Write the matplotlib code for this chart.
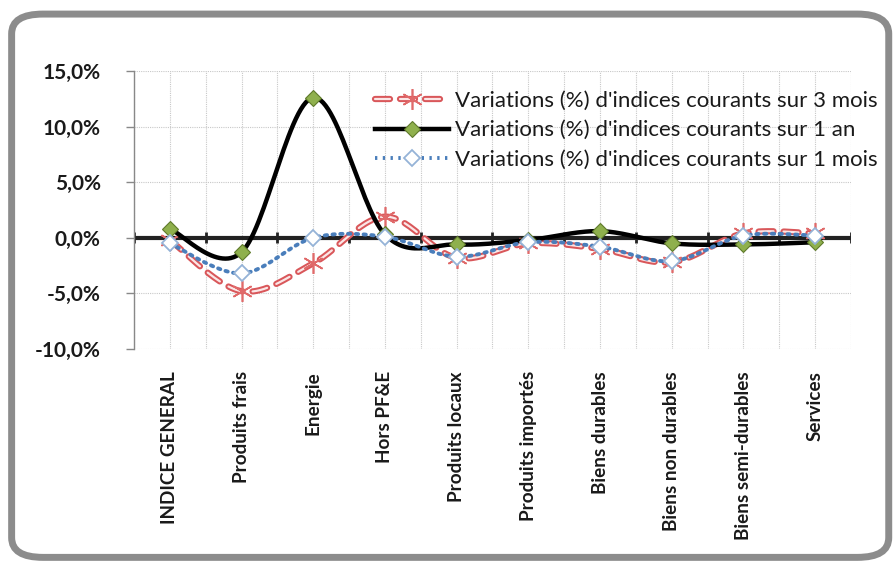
import numpy as np
import matplotlib
matplotlib.use("Agg")
import matplotlib.pyplot as plt
from matplotlib.patches import FancyBboxPatch
from matplotlib.lines import Line2D
from matplotlib.ticker import FuncFormatter, MultipleLocator

categories = ["INDICE GENERAL", "Produits frais", "Energie", "Hors PF&E",
              "Produits locaux", "Produits importés", "Biens durables",
              "Biens non durables", "Biens semi-durables", "Services"]
var_3mois = [-0.2, -4.8, -2.3, 1.9, -1.8, -0.5, -1.0, -2.2, 0.4, 0.4]
var_1an = [0.8, -1.3, 12.6, 0.3, -0.6, -0.2, 0.6, -0.5, -0.6, -0.4]
var_1mois = [-0.5, -3.2, 0.0, 0.1, -1.7, -0.4, -0.8, -2.1, 0.2, 0.2]
labels = ["Variations (%) d'indices courants sur 3 mois",
          "Variations (%) d'indices courants sur 1 an",
          "Variations (%) d'indices courants sur 1 mois"]

FONT = "Lato"


def smooth(xs, ys, n=30):
    """Excel-like smoothed curve (Catmull-Rom Bezier) through the points."""
    x = np.asarray(xs, float)
    y = np.asarray(ys, float)
    px = np.concatenate([[x[0]], x, [x[-1]]])
    py = np.concatenate([[y[0]], y, [y[-1]]])
    ox, oy = [], []
    t = np.linspace(0, 1, n)
    for i in range(1, len(px) - 2):
        p0 = np.array([px[i - 1], py[i - 1]])
        p1 = np.array([px[i], py[i]])
        p2 = np.array([px[i + 1], py[i + 1]])
        p3 = np.array([px[i + 2], py[i + 2]])
        c1 = p1 + (p2 - p0) / 6
        c2 = p2 - (p3 - p1) / 6
        b = ((1 - t) ** 3)[:, None] * p1 + (3 * (1 - t) ** 2 * t)[:, None] * c1 \
            + (3 * (1 - t) * t ** 2)[:, None] * c2 + (t ** 3)[:, None] * p2
        ox.extend(b[:, 0])
        oy.extend(b[:, 1])
    return np.array(ox), np.array(oy)


fig = plt.figure(figsize=(8.95, 5.63), dpi=100)
fig.patch.set_facecolor("white")

frame = FancyBboxPatch((0.013, 0.01), 0.98, 0.965, boxstyle="round,pad=0,rounding_size=0.035",
                       transform=fig.transFigure, facecolor="none", edgecolor="#8c8c8c",
                       linewidth=5, zorder=-5)
fig.patches.append(frame)

ax = fig.add_axes([0.1497, 0.3801, 0.8011, 0.4938])
ax.set_facecolor("none")
x = np.arange(len(categories))

ax.set_xlim(-0.5, len(categories) - 0.5)
ax.set_ylim(-10, 15)

# grid
ax.yaxis.set_major_locator(MultipleLocator(5))
ax.set_xticks(x)
ax.set_xticks(np.arange(-0.5, len(categories) + 0.5, 1), minor=True)
ax.grid(True, which="major", axis="both", color="#c8c8c8", linestyle=(0, (1, 1)), linewidth=0.8)
ax.grid(True, which="minor", axis="x", color="#c8c8c8", linestyle=(0, (1, 1)), linewidth=0.8)
ax.set_axisbelow(True)

ax.yaxis.set_major_formatter(FuncFormatter(lambda v, p: f"{v:.1f}%".replace(".", ",")))
ax.tick_params(axis="y", which="major", length=6, color="#888888", width=1, pad=18,
               labelsize=15)
ax.tick_params(axis="x", which="both", length=0, pad=16, labelsize=13.6)
ax.set_xticklabels(categories, rotation=90, va="top", ha="center", fontweight="bold",
                   fontfamily=FONT, color="#1a1a1a")
for lab in ax.get_yticklabels():
    lab.set_fontweight("bold")
    lab.set_fontfamily(FONT)
    lab.set_color("#1a1a1a")

for s in ["top", "right", "bottom"]:
    ax.spines[s].set_visible(False)
ax.spines["left"].set_color("#888888")
ax.spines["left"].set_linewidth(1)

# zero axis line with category tick marks
ax.axhline(0, color="#222222", linewidth=3, zorder=2)
ax.vlines(np.arange(-0.5, len(categories) + 0.5, 1), -0.5, 0.5, color="#222222",
          linewidth=2, zorder=2)

# 3 mois: red dashed (hollow look)
RED_OUT = dict(color="#d9575a", linewidth=4.5, linestyle=(0, (2.4, 1.6)), dash_capstyle="round")
RED_IN = dict(color="#fbe6e6", linewidth=1.6, linestyle=(0, (6.75, 4.5)), dash_capstyle="round")
sx, sy = smooth(x, var_3mois)
ax.plot(sx, sy, zorder=3, **RED_OUT)
ax.plot(sx, sy, zorder=3.1, **RED_IN)
ax.plot(x, var_3mois, linestyle="none", marker=(6, 2, 0), markersize=15,
        markeredgecolor="#e06a6a", markeredgewidth=1.2, zorder=3.2)

# 1 an: black solid with green diamonds
sx, sy = smooth(x, var_1an)
ax.plot(sx, sy, color="black", linewidth=3.2, zorder=4)
ax.plot(x, var_1an, linestyle="none", marker="D", markersize=8.5,
        markerfacecolor="#8fb04d", markeredgecolor="#5f7a2a", markeredgewidth=0.8, zorder=4.2)

# 1 mois: blue dotted with open diamonds
sx, sy = smooth(x, var_1mois)
ax.plot(sx, sy, color="#4a7ebb", linewidth=2.8, linestyle=(0, (0.6, 1.4)),
        dash_capstyle="round", zorder=5)
ax.plot(x, var_1mois, linestyle="none", marker="D", markersize=8.5,
        markerfacecolor="white", markeredgecolor="#95b3d7", markeredgewidth=1.3, zorder=5.2)

# legend handles
h1a = Line2D([], [], **RED_OUT)
h1b = Line2D([], [], marker=(6, 2, 0), markersize=15, markeredgecolor="#e06a6a",
             markeredgewidth=1.2, **RED_IN)
h2 = Line2D([], [], color="black", linewidth=3.2, marker="D", markersize=8.5,
            markerfacecolor="#8fb04d", markeredgecolor="#5f7a2a", markeredgewidth=0.8)
h3 = Line2D([], [], color="#4a7ebb", linewidth=2.8, linestyle=(0, (0.6, 1.4)), marker="D",
            markersize=8.5, markerfacecolor="white", markeredgecolor="#95b3d7",
            markeredgewidth=1.3)
leg = ax.legend([(h1a, h1b), h2, h3], labels, loc="upper right",
                bbox_to_anchor=(1.05, 0.96), frameon=False, handlelength=3.3,
                handletextpad=0.3, labelspacing=0.42, borderaxespad=0,
                prop={"family": FONT, "size": 16})
for t in leg.get_texts():
    t.set_color("#1a1a1a")

fig.savefig("out.png", dpi=100, facecolor="white")
